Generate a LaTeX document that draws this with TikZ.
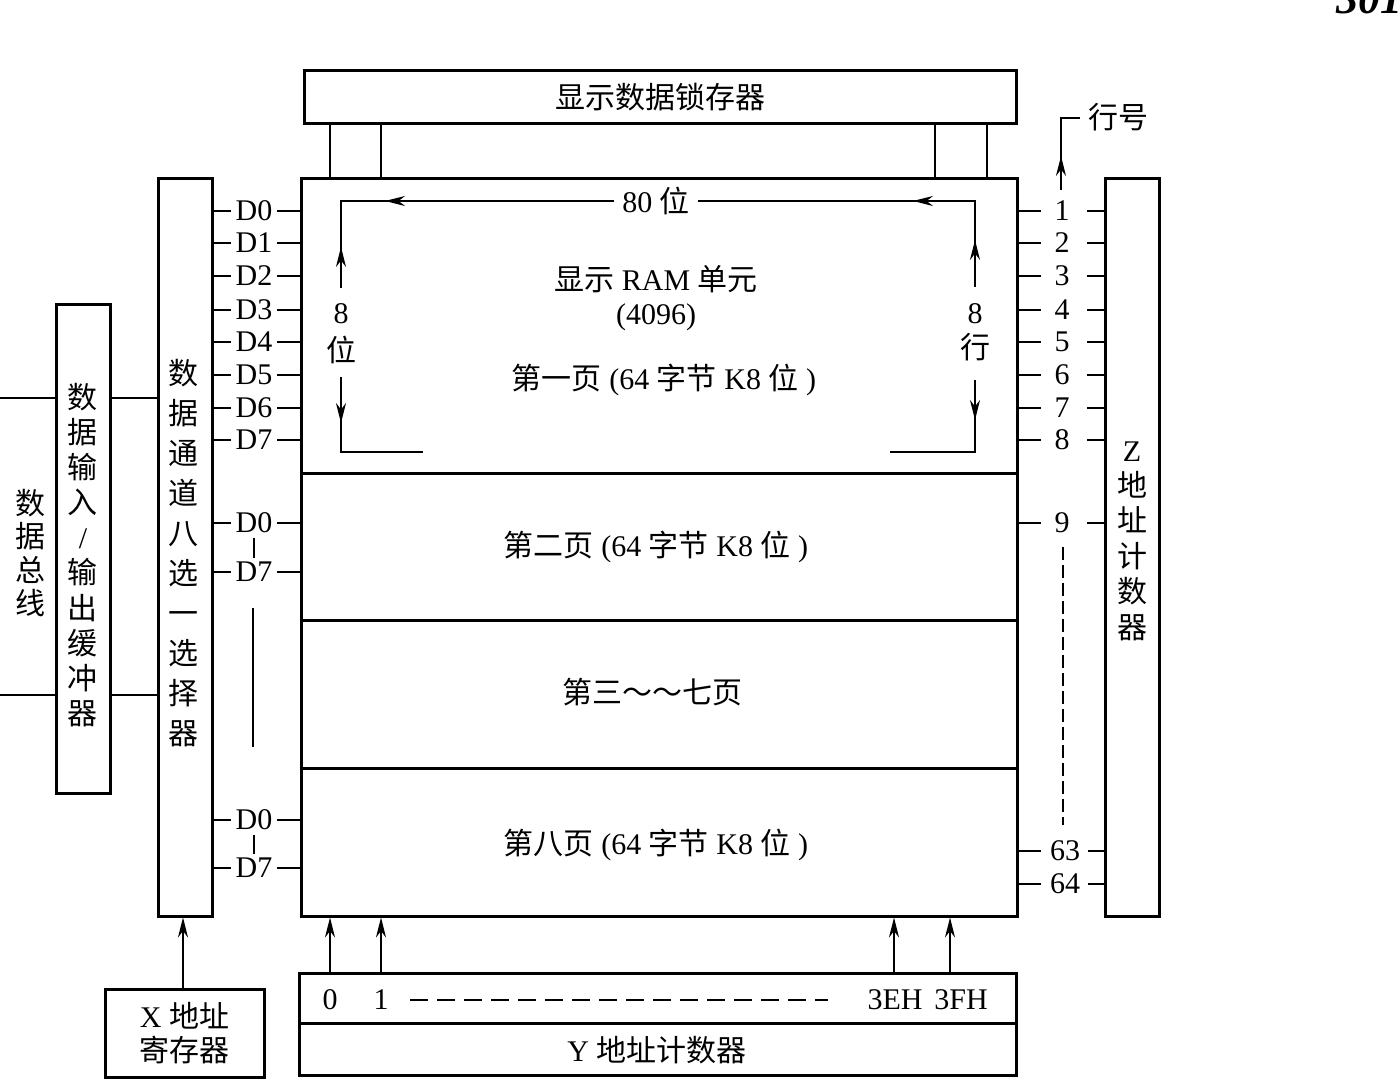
\documentclass[tikz,border=0pt]{standalone}
\usepackage{fontspec}
\setmainfont{Liberation Serif}
\newfontfamily\cjk{Noto Sans CJK SC}
\usetikzlibrary{arrows.meta}
\tikzset{
  box/.style={draw, line width=1.5pt, inner sep=0pt},
  conn/.style={line width=0.8pt},
  tipped/.style={line width=0.8pt, -{Stealth[length=10pt,width=5pt]}},
  lbl/.style={inner sep=0pt, font=\fontsize{15}{18}\selectfont},
  vtext/.style={inner sep=0pt, align=center},
}
\begin{document}
\begin{tikzpicture}[x=0.5pt,y=-0.5pt]
\useasboundingbox (0,0) rectangle (1398,1079);
% page number (cut off)
\node[lbl, anchor=base west, font=\fontsize{22}{24}\selectfont\bfseries\itshape] (pg) at (1336,14) {301};

% boxes
\node[box, minimum width=356pt, minimum height=26.5pt] (latch) at (660,97.5) {};
\node[lbl] (latchT) at (660,97) {\cjk 显示数据锁存器};
\node[box, minimum width=358pt, minimum height=368.5pt] (ram) at (659,547.5) {};
\node[box, minimum width=27pt, minimum height=368.5pt] (sel) at (185,547.5) {};
\node[box, minimum width=27pt, minimum height=244pt] (buf) at (83,549) {};
\node[box, minimum width=27pt, minimum height=368.5pt] (zbox) at (1132,547.5) {};
\node[box, minimum width=358.5pt, minimum height=25pt] (yhi) at (657.5,998) {};
\node[box, minimum width=358.5pt, minimum height=26pt] (ylo) at (657.5,1049) {};
\node[box, minimum width=79.5pt, minimum height=44pt] (xbox) at (184.5,1033) {};

% page dividers
\draw[line width=1.5pt] (ram.west |- 0,474) -- (ram.east |- 0,474);
\draw[line width=1.5pt] (ram.west |- 0,621) -- (ram.east |- 0,621);
\draw[line width=1.5pt] (ram.west |- 0,768) -- (ram.east |- 0,768);

% latch to ram
\foreach \x in {330,381,935,987}{
  \draw[line width=1pt] (latch.south -| \x,0) -- (ram.north -| \x,0);
}

% vertical texts
\node[vtext, font=\cjk\fontsize{15}{20}\selectfont] (selT) at (183,553) {数\\据\\通\\道\\八\\选\\一\\选\\择\\器};
\node[vtext, font=\cjk\fontsize{15}{17.55}\selectfont] (bufT) at (83,555) {数\\据\\输\\入\\{\rmfamily /}\\输\\出\\缓\\冲\\器};
\node[vtext, font=\cjk\fontsize{15}{16.6}\selectfont] (busT) at (30,553) {数\\据\\总\\线};
\node[vtext, font=\cjk\fontsize{15}{17.7}\selectfont] (zT) at (1132,541) {{\rmfamily Z}\\地\\址\\计\\数\\器};

% bus lines
\foreach \y in {398,695}{
  \coordinate (busL\y) at (0,\y);
  \draw[line width=1pt] (busL\y) -- (buf.west |- 0,\y);
  \draw[line width=1pt] (buf.east |- 0,\y) -- (sel.west |- 0,\y);
}

% D lines, page 1
\foreach \y/\t in {211/D0,243/D1,276/D2,310/D3,342/D4,375/D5,408/D6,440/D7,523/D0,572/D7,820/D0,868/D7}{
  \node[lbl] (d\y) at (254,\y) {\t};
  \draw[conn] (sel.east |- 0,\y) -- (231,\y);
  \draw[conn] (277,\y) -- (ram.west |- 0,\y);
}
\draw[conn] ([yshift=-2pt]d523.south) -- ([yshift=2pt]d572.north);
\draw[conn] ([yshift=-2pt]d820.south) -- ([yshift=2pt]d868.north);
\coordinate (lvA) at (253,608);
\coordinate (lvB) at (253,747);
\draw[conn] (lvA) -- (lvB);

% row numbers
\foreach \y/\t in {211/1,243/2,276/3,310/4,342/5,375/6,408/7,440/8,523/9}{
  \node[lbl] (r\y) at (1062,\y) {\t};
  \draw[conn] (ram.east |- 0,\y) -- (1041,\y);
  \draw[conn] (1087,\y) -- (zbox.west |- 0,\y);
}
\foreach \y/\t in {851/63,884/64}{
  \node[lbl] (r\y) at (1065,\y) {\t};
  \draw[conn] (ram.east |- 0,\y) -- (1041,\y);
  \draw[conn] (1088,\y) -- (zbox.west |- 0,\y);
}
\coordinate (zdA) at (1063,547);
\coordinate (zdB) at (1063,825);
\draw[conn, dash pattern=on 6.5pt off 2.5pt] (zdA) -- (zdB);

% row number label
\node[lbl] (hang) at (1118,117) {\cjk 行号};
\coordinate (hA) at (1061,190);
\coordinate (hB) at (1061,118);
\draw[conn] (hA) -- (hB) -- ([xshift=-4pt]hang.west |- hB);
\draw[tipped] (hA) -- (1061,156);

% inside page 1
\node[lbl] (w80) at (656,201) {80 {\cjk 位}};
\node[lbl] (ramT) at (656,279) {{\cjk 显示} RAM {\cjk 单元}};
\node[lbl] (ramN) at (656,317) {(4096)};
\node[lbl] (p1) at (664,380) {{\cjk 第一页} (64 {\cjk 字节} K8 {\cjk 位} )};
\node[lbl] (b8) at (341,314) {8};
\node[lbl] (bw) at (341,350) {\cjk 位};
\node[lbl] (r8) at (975,314) {8};
\node[lbl] (rh) at (975,347) {\cjk 行};
\coordinate (tl) at (341,201);
\coordinate (tr) at (975,201);
\coordinate (bl) at (341,452);
\coordinate (br) at (975,452);
% left bracket
\draw[conn] ([xshift=-4pt]w80.west) -- (tl) -- (341,288);
\draw[tipped] (430,201) -- (385,201);
\draw[tipped] (341,288) -- (341,247);
\draw[conn] (341,377) -- (bl) -- (423,452);
\draw[tipped] (341,377) -- (341,423);
% right bracket
\draw[conn] ([xshift=4pt]w80.east) -- (tr) -- (975,287);
\draw[tipped] (950,201) -- (913,201);
\draw[tipped] (975,287) -- (975,240);
\draw[conn] (975,387) -- (br) -- (890,452);
\draw[tipped] (975,380) -- (975,420);

% page labels
\node[lbl] (p2) at (656,547) {{\cjk 第二页} (64 {\cjk 字节} K8 {\cjk 位} )};
\node[lbl] (p3) at (652,692) {\cjk 第三～～七页};
\node[lbl] (p8) at (656,845) {{\cjk 第八页} (64 {\cjk 字节} K8 {\cjk 位} )};

% Y counter
\node[lbl] (y0) at (330,1000) {0};
\node[lbl] (y1) at (381,1000) {1};
\node[lbl] (y3e) at (895,1000) {3EH};
\node[lbl] (y3f) at (961,1000) {3FH};
\coordinate (ydA) at (410,1000);
\coordinate (ydB) at (828,1000);
\draw[conn, dash pattern=on 9pt off 4.5pt] (ydA) -- (ydB);
\node[lbl] (yT) at (657,1050) {Y {\cjk 地址计数器}};
\foreach \x in {330,381,894,950}{
  \draw[tipped] (yhi.north -| \x,0) -- (ram.south -| \x,0);
}

% X register
\node[vtext, font=\fontsize{15}{17}\selectfont] (xT) at (184.5,1033) {X {\cjk 地址}\\{\cjk 寄存器}};
\draw[tipped] (xbox.north -| 183,0) -- (sel.south -| 183,0);
\end{tikzpicture}
\end{document}
